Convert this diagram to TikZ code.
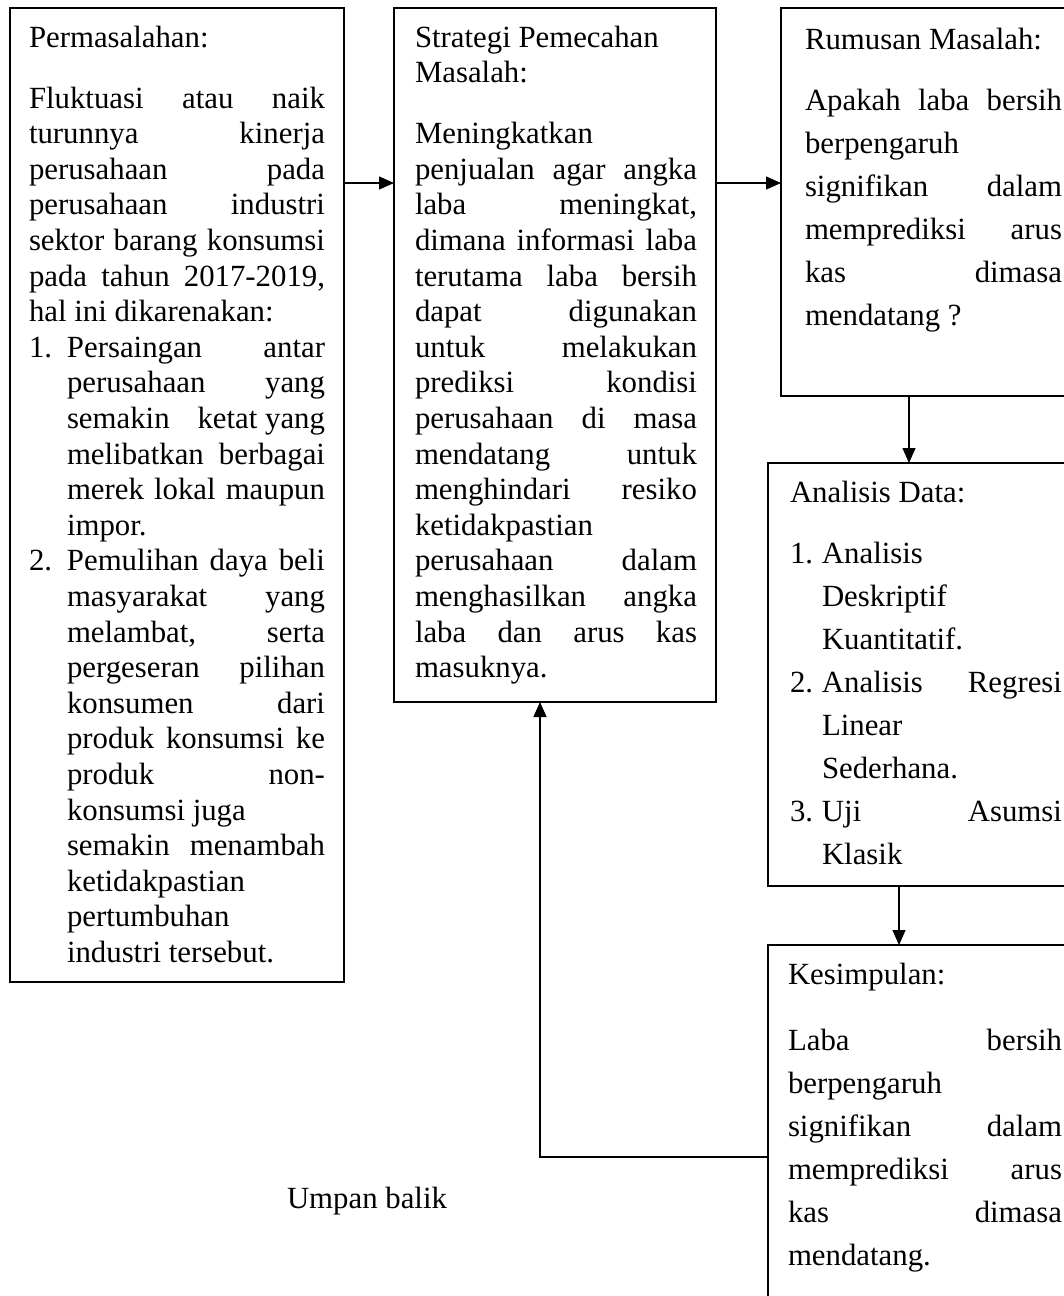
\documentclass[tikz,border=0pt]{standalone}
\usepackage{fontspec}
\setmainfont{Liberation Serif}
\usetikzlibrary{arrows.meta}
\newcommand\JL[2]{\makebox[#1][s]{#2}}
\newcommand\NB[2]{\makebox[#1][l]{#2}}
\newcommand\setfs[1]{\fontsize{30.8}{#1}\selectfont\lineskiplimit=-1000pt\parindent=0pt}
\begin{document}
\begin{tikzpicture}[x=1pt,y=-1pt,
  box/.style={draw, line width=1.5pt, anchor=north west, inner sep=0pt, outer sep=0pt},
  txt/.style={anchor=base west, inner sep=0pt, outer sep=0pt},
  arr/.style={line width=1.3pt, -{Triangle[length=15pt,width=13pt]}}]
\useasboundingbox (0,0) rectangle (1064,1296);
\clip (0,0) rectangle (1064,1296);

% boxes
\node[box, minimum width=334pt, minimum height=974pt] (b1) at (10,8) {};
\node[box, minimum width=322pt, minimum height=694pt] (b2) at (394,8) {};
\node[box, minimum width=300pt, minimum height=388pt] (b3) at (781,8) {};
\node[box, minimum width=310pt, minimum height=423pt] (b4) at (768,463) {};
\node[box, minimum width=310pt, minimum height=380pt] (b5) at (768,945) {};

% box 1 text
\node[txt] (t1) at (29,47) {\parbox[t]{296pt}{\setfs{35.6}%
Permasalahan:\\[25.4pt]
\JL{296pt}{Fluktuasi atau naik}\\
\JL{296pt}{turunnya kinerja}\\
\JL{296pt}{perusahaan pada}\\
\JL{296pt}{perusahaan industri}\\
\JL{296pt}{sektor barang konsumsi}\\
\JL{296pt}{pada tahun 2017-2019,}\\
hal ini dikarenakan:\\
\NB{38pt}{1.}\JL{258pt}{Persaingan antar}\\
\hspace*{38pt}\JL{258pt}{perusahaan yang}\\
\hspace*{38pt}\hbox to 258pt{semakin\hfill\ ketat yang}\\
\hspace*{38pt}\JL{258pt}{melibatkan berbagai}\\
\hspace*{38pt}\JL{258pt}{merek lokal maupun}\\
\hspace*{38pt}impor.\\
\NB{38pt}{2.}\JL{258pt}{Pemulihan daya beli}\\
\hspace*{38pt}\JL{258pt}{masyarakat yang}\\
\hspace*{38pt}\JL{258pt}{melambat, serta}\\
\hspace*{38pt}\JL{258pt}{pergeseran pilihan}\\
\hspace*{38pt}\JL{258pt}{konsumen dari}\\
\hspace*{38pt}\JL{258pt}{produk konsumsi ke}\\
\hspace*{38pt}\JL{258pt}{produk non-}\\
\hspace*{38pt}konsumsi juga\\
\hspace*{38pt}\JL{258pt}{semakin menambah}\\
\hspace*{38pt}ketidakpastian\\
\hspace*{38pt}pertumbuhan\\
\hspace*{38pt}industri tersebut.}};

% box 2 text
\node[txt] (t2) at (415,47) {\parbox[t]{282pt}{\setfs{35.6}%
Strategi Pemecahan\\
Masalah:\\[25.4pt]
Meningkatkan\\
\JL{282pt}{penjualan agar angka}\\
\JL{282pt}{laba meningkat,}\\
\JL{282pt}{dimana informasi laba}\\
\JL{282pt}{terutama laba bersih}\\
\JL{282pt}{dapat digunakan}\\
\JL{282pt}{untuk melakukan}\\
\JL{282pt}{prediksi kondisi}\\
\JL{282pt}{perusahaan di masa}\\
\JL{282pt}{mendatang untuk}\\
\JL{282pt}{menghindari resiko}\\
ketidakpastian\\
\JL{282pt}{perusahaan dalam}\\
\JL{282pt}{menghasilkan angka}\\
\JL{282pt}{laba dan arus kas}\\
masuknya.}};

% box 3 text
\node[txt] (t3) at (805,49) {\parbox[t]{257pt}{\setfs{43}%
Rumusan Masalah:\\[18pt]
\JL{257pt}{Apakah laba bersih}\\
berpengaruh\\
\JL{257pt}{signifikan dalam}\\
\JL{257pt}{memprediksi arus}\\
\JL{257pt}{kas dimasa}\\
mendatang ?}};

% box 4 text
\node[txt] (t4) at (790,502) {\parbox[t]{272pt}{\setfs{43}%
Analisis Data:\\[18pt]
\NB{32pt}{1.}Analisis\\
\hspace*{32pt}Deskriptif\\
\hspace*{32pt}Kuantitatif.\\
\NB{32pt}{2.}\JL{240pt}{Analisis Regresi}\\
\hspace*{32pt}Linear\\
\hspace*{32pt}Sederhana.\\
\NB{32pt}{3.}\JL{240pt}{Uji Asumsi}\\
\hspace*{32pt}Klasik}};

% box 5 text
\node[txt] (t5) at (788,984) {\parbox[t]{274pt}{\setfs{43}%
Kesimpulan:\\[23pt]
\JL{274pt}{Laba bersih}\\
berpengaruh\\
\JL{274pt}{signifikan dalam}\\
\JL{274pt}{memprediksi arus}\\
\JL{274pt}{kas dimasa}\\
mendatang.}};

% feedback label
\node[txt] (ub) at (287,1208) {\fontsize{30.8}{35.6}\selectfont Umpan balik};

% connectors
\coordinate (ya) at (0,183);
\coordinate (x3) at (909,0);
\coordinate (x4) at (899,0);
\coordinate (fb) at (540,1157);
\draw[arr] (ya -| b1.east) -- (ya -| b2.west);
\draw[arr] (ya -| b2.east) -- (ya -| b3.west);
\draw[arr] (x3 |- b3.south) -- (x3 |- b4.north);
\draw[arr] (x4 |- b4.south) -- (x4 |- b5.north);
\draw[arr] (fb -| b5.west) -- (fb) -- (fb |- b2.south);
\end{tikzpicture}
\end{document}
